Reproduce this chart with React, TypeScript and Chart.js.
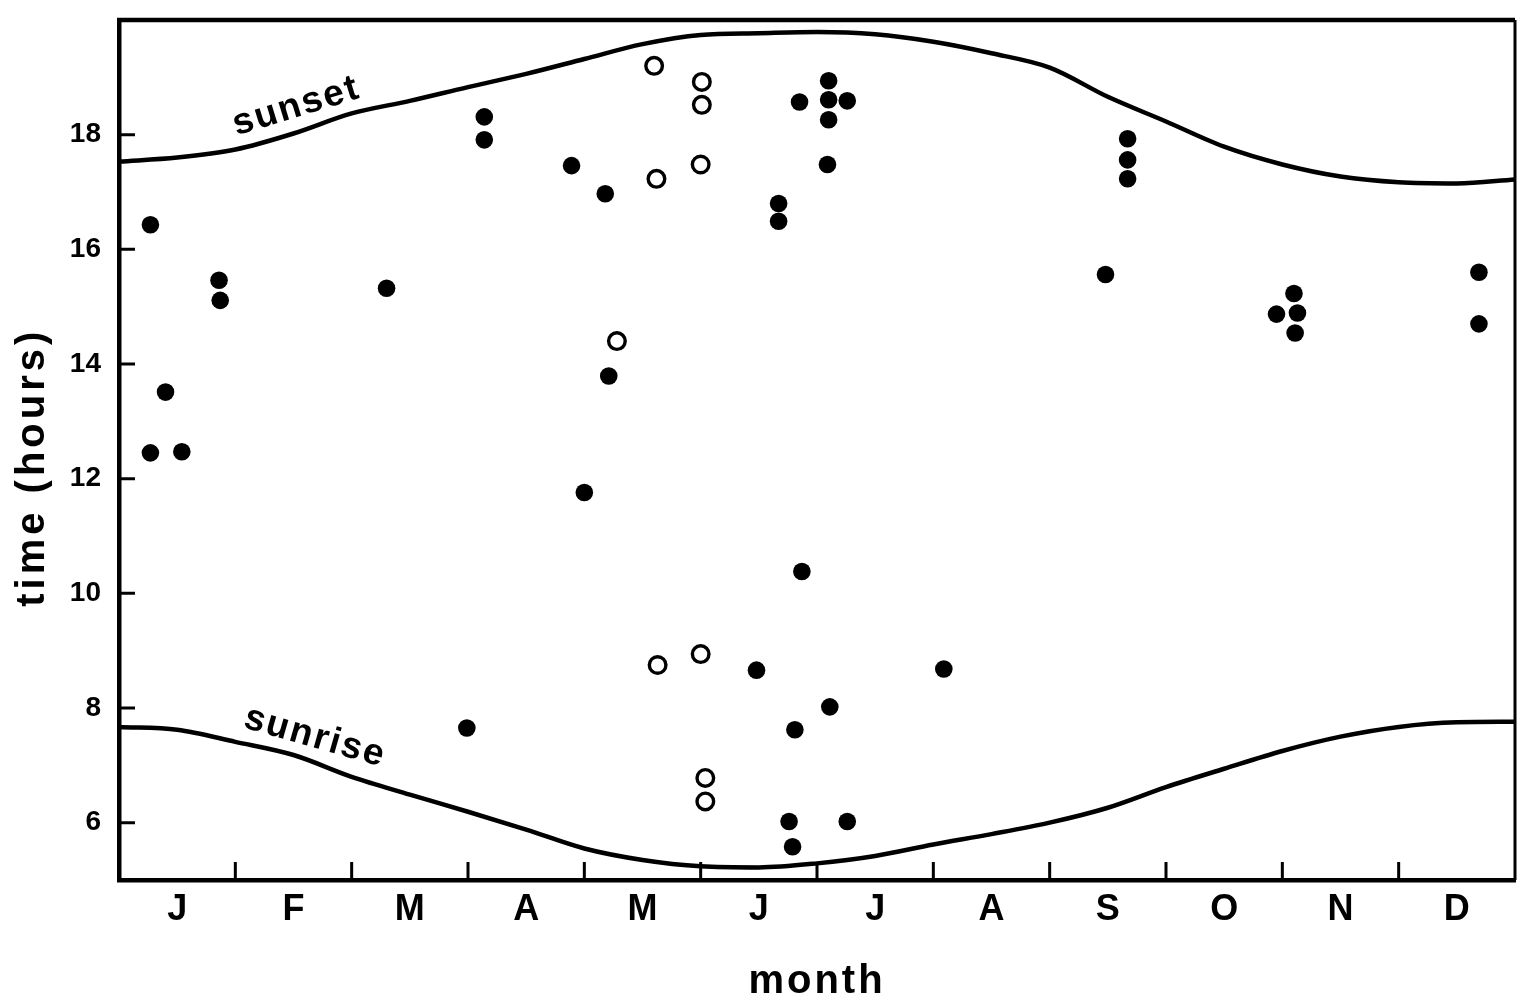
import React, { useEffect, useRef } from "react";
import { Chart, registerables } from "chart.js";

Chart.register(...registerables);

// ---- data ----
const monthLabels = ["J", "F", "M", "A", "M", "J", "J", "A", "S", "O", "N", "D"];
const monthTickPositions = [0.5, 1.5, 2.5, 3.5, 4.5, 5.5, 6.5, 7.5, 8.5, 9.5, 10.5, 11.5];
const monthBoundaries = [1, 2, 3, 4, 5, 6, 7, 8, 9, 10, 11];
const hourTicks = [6, 8, 10, 12, 14, 16, 18];

const curveMonths = [0, 0.5, 1, 1.5, 2, 2.5, 3, 3.5, 4, 4.5, 5, 5.5, 6, 6.5, 7, 7.5, 8, 8.5, 9, 9.5, 10, 10.5, 11, 11.5, 12];
const sunsetHours = [17.53, 17.6, 17.74, 18.02, 18.37, 18.59, 18.83, 19.06, 19.32, 19.58, 19.74, 19.77, 19.79, 19.75, 19.62, 19.42, 19.17, 18.66, 18.23, 17.79, 17.48, 17.27, 17.17, 17.15, 17.22];
const sunriseHours = [7.67, 7.62, 7.41, 7.18, 6.8, 6.49, 6.19, 5.88, 5.55, 5.35, 5.24, 5.22, 5.29, 5.42, 5.62, 5.8, 6.0, 6.26, 6.62, 6.94, 7.25, 7.5, 7.67, 7.75, 7.76];

const filledMonth = [0.27, 0.4, 0.27, 0.54, 0.86, 0.87, 2.3, 2.99, 3.14, 3.14, 3.89, 4.18, 4.21, 4.0, 5.48, 5.67, 5.67, 5.85, 6.1, 6.1, 6.26, 6.1, 6.09, 5.87, 6.11, 5.81, 5.76, 5.79, 6.26, 7.09, 8.48, 8.67, 8.67, 8.67, 10.1, 9.95, 10.13, 10.11, 11.69, 11.69];
const filledHours = [16.43, 13.51, 12.45, 12.47, 15.46, 15.11, 15.32, 7.65, 18.31, 17.91, 17.46, 16.97, 13.79, 11.76, 8.66, 16.8, 16.49, 18.57, 18.94, 18.61, 18.59, 18.26, 17.48, 10.38, 8.02, 7.62, 6.02, 5.58, 6.02, 8.68, 15.56, 17.93, 17.56, 17.23, 15.23, 14.87, 14.89, 14.54, 15.6, 14.7];

const openMonth = [4.6, 5.01, 5.01, 4.62, 5.0, 4.28, 4.63, 5.0, 5.04, 5.04];
const openHours = [19.2, 18.92, 18.52, 17.23, 17.48, 14.4, 8.75, 8.94, 6.78, 6.37];

const FONT = "'Liberation Sans', Arial, sans-serif";

const zip = (xs: number[], ys: number[]) => xs.map((x, i) => ({ x, y: ys[i] }));

const decorPlugin = {
  id: "decor",
  afterDatasetsDraw(chart: any) {
    const { ctx, chartArea: a, scales } = chart;
    const xs = scales.x;
    const ys = scales.y;
    ctx.save();
    ctx.strokeStyle = "#000";
    ctx.lineCap = "butt";
    // top and right frame
    ctx.lineWidth = 4.5;
    ctx.beginPath();
    ctx.moveTo(a.left - 2, a.top);
    ctx.lineTo(a.right, a.top);
    ctx.stroke();
    ctx.lineWidth = 3;
    ctx.beginPath();
    ctx.moveTo(a.right, a.top);
    ctx.lineTo(a.right, a.bottom);
    ctx.stroke();
    // inside ticks
    ctx.lineWidth = 3;
    ctx.beginPath();
    monthBoundaries.forEach((m) => {
      const px = xs.getPixelForValue(m);
      ctx.moveTo(px, a.bottom);
      ctx.lineTo(px, a.bottom - 18);
    });
    hourTicks.forEach((h) => {
      const py = ys.getPixelForValue(h);
      ctx.moveTo(a.left, py);
      ctx.lineTo(a.left + 16, py);
    });
    ctx.stroke();

    ctx.fillStyle = "#000";
    // curve labels
    ctx.font = `bold 37px ${FONT}`;
    ctx.textAlign = "center";
    ctx.textBaseline = "alphabetic";
    (ctx as any).letterSpacing = "2px";
    ctx.save();
    ctx.translate(xs.getPixelForValue(1.55), ys.getPixelForValue(18.32));
    ctx.rotate((-17 * Math.PI) / 180);
    ctx.fillText("sunset", 0, 0);
    ctx.restore();

    ctx.save();
    ctx.translate(xs.getPixelForValue(1.66), ys.getPixelForValue(7.32));
    ctx.rotate((16 * Math.PI) / 180);
    ctx.fillText("sunrise", 0, 0);
    ctx.restore();

    // axis titles
    ctx.font = `bold 40px ${FONT}`;
    (ctx as any).letterSpacing = "3px";
    ctx.fillText("month", (a.left + a.right) / 2, 993);

    ctx.save();
    ctx.translate(44, ys.getPixelForValue(12.2));
    ctx.rotate(-Math.PI / 2);
    (ctx as any).letterSpacing = "4px";
    ctx.fillText("time (hours)", 0, 0);
    ctx.restore();
    ctx.restore();
  },
};

export default function App() {
  const ref = useRef<HTMLCanvasElement | null>(null);

  useEffect(() => {
    const canvas = ref.current;
    if (!canvas) return;
    const chart = new Chart(canvas, {
      type: "scatter",
      data: {
        datasets: [
          {
            label: "sunset",
            data: zip(curveMonths, sunsetHours),
            showLine: true,
            borderColor: "#000",
            borderWidth: 4.5,
            pointRadius: 0,
            tension: 0.4,
            cubicInterpolationMode: "monotone",
          },
          {
            label: "sunrise",
            data: zip(curveMonths, sunriseHours),
            showLine: true,
            borderColor: "#000",
            borderWidth: 4.5,
            pointRadius: 0,
            tension: 0.4,
            cubicInterpolationMode: "monotone",
          },
          {
            label: "filled",
            data: zip(filledMonth, filledHours),
            pointRadius: 8.8,
            backgroundColor: "#000",
            borderColor: "#000",
            borderWidth: 0,
          },
          {
            label: "open",
            data: zip(openMonth, openHours),
            pointRadius: 8.3,
            backgroundColor: "#fff",
            borderColor: "#000",
            borderWidth: 3.4,
          },
        ],
      } as any,
      options: {
        animation: false,
        responsive: false,
        devicePixelRatio: 1,
        layout: { autoPadding: false, padding: { top: 20, right: 2, left: 0, bottom: 0 } },
        plugins: {
          legend: { display: false },
          tooltip: { enabled: false },
        },
        scales: {
          x: {
            type: "linear",
            min: 0,
            max: 12,
            grid: { display: false, drawTicks: false, tickLength: 0 },
            border: { display: true, color: "#000", width: 4.5 },
            afterBuildTicks: (scale: any) => {
              scale.ticks = monthTickPositions.map((v) => ({ value: v }));
            },
            afterFit: (scale: any) => {
              scale.height = 119;
              scale.paddingLeft = 0;
              scale.paddingRight = 0;
            },
            ticks: {
              autoSkip: false,
              maxRotation: 0,
              padding: 8,
              color: "#000",
              font: { family: FONT, size: 36, weight: "bold" },
              callback: (_v: any, i: number) => monthLabels[i],
            },
          },
          y: {
            type: "linear",
            min: 5,
            max: 20,
            grid: { display: false, drawTicks: false, tickLength: 0 },
            border: { display: true, color: "#000", width: 4.5 },
            afterBuildTicks: (scale: any) => {
              scale.ticks = hourTicks.map((v) => ({ value: v }));
            },
            afterFit: (scale: any) => {
              scale.width = 119;
              scale.paddingTop = 0;
              scale.paddingBottom = 0;
            },
            ticks: {
              padding: 18,
              color: "#000",
              font: { family: FONT, size: 28, weight: "bold" },
              callback: (v: any) => String(v),
            },
          },
        },
      } as any,
      plugins: [decorPlugin],
    });
    return () => chart.destroy();
  }, []);

  return (
    <canvas
      ref={ref}
      width={1517}
      height={999}
      style={{ position: "fixed", left: 0, top: 0, width: 1517, height: 999, display: "block", background: "#fff" }}
    />
  );
}
